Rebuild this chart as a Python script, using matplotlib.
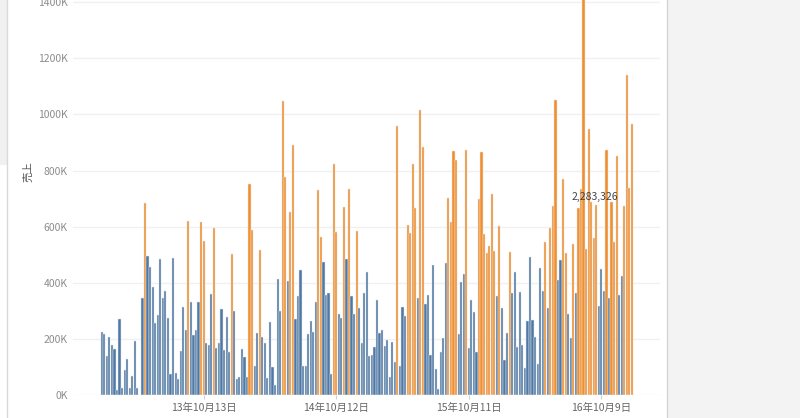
import matplotlib
matplotlib.use('Agg')
import matplotlib.pyplot as plt
import numpy as np
import pandas as pd
from matplotlib.patches import Rectangle
from matplotlib.lines import Line2D

plt.rcParams['font.family'] = ['Noto Sans CJK JP', 'DejaVu Sans']

# weekly sales (in K), one value per week starting 2013-01-06; None = week with no data
sales_k = [
    224, 219, 140, 206, 177, 165, 18, 271, 24, 89, 130, 26, 69, 193, 26, None,
    346, 684, 497, 456, 384, 257, 284, 484, 344, 371, 275, 75, 487, 77, 58, 156, 315,
    232, 619, 330, 214, 232, 330, 615, 550, 184, 178, 361, 597, 167, 184, 307, 161,
    277, 152, 503, 301, 56, 63, 163, 136, 63, 752, 589, 105, 221, 518, 206, 184, 60,
    261, 101, 35,
    413, 300, 1047, 777, 406, 652, 892, 272, 352, 444, 104, 104, 218, 262, 226, 333,
    729, 564, 475, 358, 364, 75, 825, 581, 287, 275, 670, 486, 735, 352, 289, 583,
    309, 187, 364, 440,
    140, 143, 170, 337, 220, 232, 175, 195, 63, 190, 117, 960, 104, 312, 280, 607,
    577, 823, 666, 345, 1017, 883, 326, 355, 143, 464, 92, 20, 152, 202, 472, 702,
    618, 869, 839,
    218, 403, 433, 875, 169, 338, 295, 155, 699, 866, 575, 505, 530, 716, 515, 352,
    603, 309, 125, 220, 509, 364, 440, 170, 367, 177, 95, 264, 491, 267, 206, 111,
    452, 370, 546,
    309, 597, 672, 1050, 410, 480, 770, 506, 288, 203, 540, 363, 666, 734, 2283.326,
    521, 948, 687, 560, 677, 318, 449, 371, 875, 346, 687, 545, 852, 356, 424, 675,
    1142, 737, 966,
]
first_week = '2013-01-06'
tick_dates = ['2013-10-13', '2014-10-12', '2015-10-11', '2016-10-09']
y_ticks = [0, 200, 400, 600, 800, 1000, 1200, 1400]
threshold_k = 500  # weeks above this are highlighted

weeks = pd.date_range(first_week, periods=len(sales_k), freq='7D')
vals = np.array([np.nan if v is None else v for v in sales_k], dtype=float)
idx = np.arange(len(vals))
ok = ~np.isnan(vals)
colors = np.where(vals > threshold_k, '#f28e2b', '#4e79a7')

fig = plt.figure(figsize=(8, 4.18), dpi=100)
W, H = 800, 418

# side panels
fig.patches.append(Rectangle((667 / W, 0), 1 - 667 / W, 1, transform=fig.transFigure,
                             facecolor='#f3f3f3', edgecolor='none', zorder=0))
fig.lines.append(Line2D([667 / W, 667 / W], [0, 1], transform=fig.transFigure,
                        color='#d4d4d4', lw=1))
fig.patches.append(Rectangle((0, 1 - 165 / H), 7 / W, 165 / H, transform=fig.transFigure,
                             facecolor='#f0f0f0', edgecolor='none', zorder=0))
fig.lines.append(Line2D([7 / W, 7 / W], [0, 1], transform=fig.transFigure,
                        color='#d9d9d9', lw=1))

ax = fig.add_axes([73 / W, (H - 395) / H, (660 - 73) / W, 395 / H])
ax.bar(idx[ok], vals[ok], width=0.85, color=colors[ok], edgecolor='#e6e6e6',
       linewidth=0.35, zorder=2)

ax.set_xlim(-11.25, 219)
ax.set_ylim(0, 1408)
ax.set_yticks(y_ticks)
ax.set_yticklabels([f'{v}K' for v in y_ticks])
ax.tick_params(axis='y', length=0, pad=3.6, labelsize=7.5, labelcolor='#8c8c8c')

tick_idx = [int(np.where(weeks == pd.Timestamp(d))[0][0]) for d in tick_dates]
ax.set_xticks(tick_idx)
ax.set_xticklabels([f'{weeks[i].year % 100}年{weeks[i].month}月{weeks[i].day}日' for i in tick_idx])
ax.tick_params(axis='x', length=3, width=0.8, color='#d0d0d0', pad=2.5,
               labelsize=7.5, labelcolor='#666666')

ax.grid(axis='y', color='#f0f0f0', lw=1, zorder=0)
for s in ax.spines.values():
    s.set_visible(False)

# label for the week that runs off the top
peak = int(np.nanargmax(vals))
ax.text(peak + 4.5, 707, f'{int(round(vals[peak] * 1000)):,}', ha='center', va='center',
        fontsize=7.5, color='#444444', zorder=3)

fig.text(28 / W, 1 - 172 / H, '売上', rotation=90, ha='center', va='center',
         fontsize=7.5, color='#555555')

fig.savefig('out.png', dpi=100)
